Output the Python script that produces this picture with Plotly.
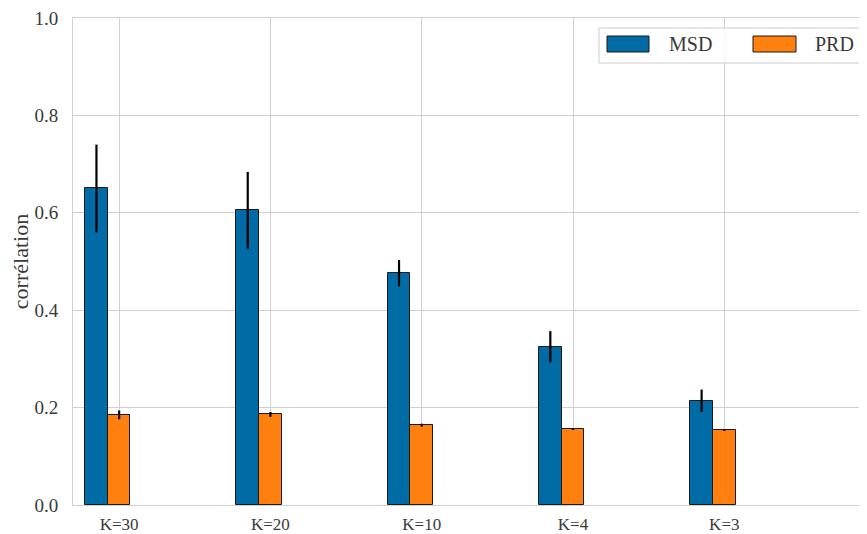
import plotly.graph_objects as go

categories = ["K=30", "K=20", "K=10", "K=4", "K=3"]
msd_values = [0.650, 0.605, 0.476, 0.325, 0.214]
msd_errors = [0.090, 0.079, 0.027, 0.032, 0.023]
prd_values = [0.185, 0.186, 0.164, 0.156, 0.154]
prd_errors = [0.009, 0.005, 0.003, 0.002, 0.002]
y_ticks = [0.0, 0.2, 0.4, 0.6, 0.8, 1.0]

BLUE = "#006ba4"
ORANGE = "#ff800e"
FONT = "'Liberation Serif', 'Times New Roman', Times, serif"
TXT = "#3a3a3a"
GRID = "#d0d0d0"

# page body has an 8px margin: work in reference pixels minus 8
OFF = 8
W, H = 867 - OFF, 534 - OFF

pos = list(range(len(categories)))
bar_w = 0.15

fig = go.Figure()
fig.add_trace(go.Bar(
    name="MSD", x=[p - bar_w for p in pos], y=msd_values, width=bar_w,
    marker=dict(color=BLUE, line=dict(color="#1a1a1a", width=1)),
    error_y=dict(type="data", array=msd_errors, color="black", thickness=2.2, width=0),
    showlegend=False,
))
fig.add_trace(go.Bar(
    name="PRD", x=pos, y=prd_values, width=bar_w,
    marker=dict(color=ORANGE, line=dict(color="#1a1a1a", width=1)),
    error_y=dict(type="data", array=prd_errors, color="black", thickness=2.2, width=0),
    showlegend=False,
))

# plot area in reference pixels
L, R, T, B = 73, 865, 18, 505
def px(x):
    return (x - L) / (R - L)
def py(y):
    return (B - y) / (B - T)

fig.add_shape(type="rect", xref="paper", yref="paper",
              x0=px(599), x1=px(865.5), y0=py(63), y1=py(28),
              line=dict(color="#cccccc", width=1), fillcolor="rgba(255,255,255,0.8)", layer="above")
legend_items = [("MSD", BLUE, 607, 649, 667), ("PRD", ORANGE, 753, 796, 813)]
for name, col, x0, x1, tx in legend_items:
    fig.add_shape(type="rect", xref="paper", yref="paper",
                  x0=px(x0), x1=px(x1), y0=py(52), y1=py(36),
                  line=dict(color="#1a1a1a", width=1), fillcolor=col, layer="above")
    fig.add_annotation(xref="paper", yref="paper", x=px(tx), y=py(44),
                       text=name, showarrow=False, xanchor="left", yanchor="middle",
                       font=dict(family=FONT, size=20, color=TXT))

fig.update_layout(
    width=W, height=H,
    margin=dict(l=L - OFF, r=867 - R, t=T - OFF, b=534 - B, autoexpand=False),
    plot_bgcolor="white", paper_bgcolor="white",
    barmode="overlay", bargap=0,
    font=dict(family=FONT, color=TXT),
)
fig.update_xaxes(
    range=[-0.305, 4.93], tickvals=pos, ticktext=categories,
    tickfont=dict(family=FONT, size=17, color=TXT),
    showgrid=True, gridcolor=GRID, gridwidth=1,
    showline=True, linecolor=GRID, linewidth=1, mirror=True,
    ticks="", zeroline=False, ticklabelstandoff=4, ticklabeloverflow="allow",
)
fig.update_yaxes(
    range=[0, 1.0], tickvals=y_ticks, ticktext=[f"{v:.1f}" for v in y_ticks],
    tickfont=dict(family=FONT, size=19, color=TXT),
    showgrid=True, gridcolor=GRID, gridwidth=1,
    showline=True, linecolor=GRID, linewidth=1, mirror=True,
    ticks="", zeroline=False, ticklabelstandoff=10, ticklabeloverflow="allow",
    title=dict(text="corrélation", font=dict(family=FONT, size=22, color=TXT), standoff=6),
)

fig.write_html("out.html")
